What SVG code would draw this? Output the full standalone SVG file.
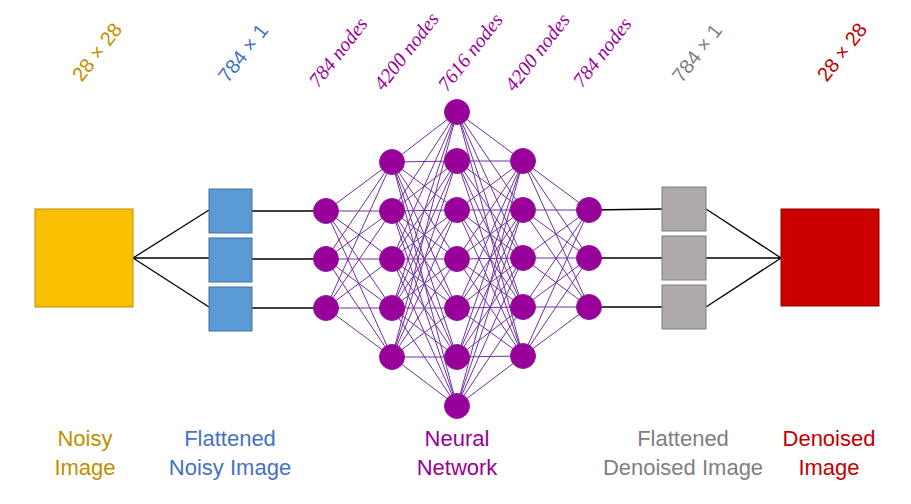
<svg xmlns="http://www.w3.org/2000/svg" width="911" height="504" viewBox="0 0 911 504">
<style>
.bk{stroke:#000;stroke-width:1.3;fill:none}
.nn{stroke:#7030A0;stroke-width:1;fill:none}
.node{fill:#990099;stroke:#8a1aa0;stroke-width:1}
.blue{fill:#5B9BD5;stroke:#41719C;stroke-width:1}
.gray{fill:#AEAAAA;stroke:#7F7F7F;stroke-width:1}
.lab{font-family:"Liberation Sans",Arial,sans-serif;font-size:22px;text-anchor:middle}
.top{font-family:"Liberation Sans",Arial,sans-serif;font-size:20px;text-anchor:middle;dominant-baseline:central}
.topi{font-family:"Liberation Serif","Times New Roman",serif;font-style:italic;font-size:20px;text-anchor:middle;dominant-baseline:central;fill:#990099}
</style>
<rect width="911" height="504" fill="#fff"/>
<g id="connectors">
<path class="bk" d="M133 258L209 210M133 258L209 258M133 258L209 307M252 211L326 211M252 259L326 259M252 308L326 308M589 210L662 209M589 258L662 258M589 307L662 307M706 209L781 258M706 258L781 258M706 307L781 258"/>
<path class="nn" d="M326 211L392 162M326 211L392 211M326 211L392 259M326 211L392 308M326 211L392 357M326 259L392 162M326 259L392 211M326 259L392 259M326 259L392 308M326 259L392 357M326 308L392 162M326 308L392 211M326 308L392 259M326 308L392 308M326 308L392 357"/>
<path class="nn" d="M392 162L457 112M392 162L457 161M392 162L457 210M392 162L457 259M392 162L457 308M392 162L457 357M392 162L457 406M392 211L457 112M392 211L457 161M392 211L457 210M392 211L457 259M392 211L457 308M392 211L457 357M392 211L457 406M392 259L457 112M392 259L457 161M392 259L457 210M392 259L457 259M392 259L457 308M392 259L457 357M392 259L457 406M392 308L457 112M392 308L457 161M392 308L457 210M392 308L457 259M392 308L457 308M392 308L457 357M392 308L457 406M392 357L457 112M392 357L457 161M392 357L457 210M392 357L457 259M392 357L457 308M392 357L457 357M392 357L457 406"/>
<path class="nn" d="M457 112L523 161M457 112L523 210M457 112L523 258M457 112L523 307M457 112L523 356M457 161L523 161M457 161L523 210M457 161L523 258M457 161L523 307M457 161L523 356M457 210L523 161M457 210L523 210M457 210L523 258M457 210L523 307M457 210L523 356M457 259L523 161M457 259L523 210M457 259L523 258M457 259L523 307M457 259L523 356M457 308L523 161M457 308L523 210M457 308L523 258M457 308L523 307M457 308L523 356M457 357L523 161M457 357L523 210M457 357L523 258M457 357L523 307M457 357L523 356M457 406L523 161M457 406L523 210M457 406L523 258M457 406L523 307M457 406L523 356"/>
<path class="nn" d="M523 161L589 210M523 161L589 258M523 161L589 307M523 210L589 210M523 210L589 258M523 210L589 307M523 258L589 210M523 258L589 258M523 258L589 307M523 307L589 210M523 307L589 258M523 307L589 307M523 356L589 210M523 356L589 258M523 356L589 307"/>
</g>
<g id="noisy-image"><rect x="35" y="209" width="98" height="98" fill="#F9BE00" stroke="#C09000" stroke-width="1"/></g>
<g id="flattened-noisy"><rect class="blue" x="209" y="189" width="43" height="44"/><rect class="blue" x="209" y="238" width="43" height="44"/><rect class="blue" x="209" y="287" width="43" height="44"/></g>
<g id="layer1"><circle class="node" cx="326" cy="211" r="12.5"/><circle class="node" cx="326" cy="259" r="12.5"/><circle class="node" cx="326" cy="308" r="12.5"/></g>
<g id="layer2"><circle class="node" cx="392" cy="162" r="12.5"/><circle class="node" cx="392" cy="211" r="12.5"/><circle class="node" cx="392" cy="259" r="12.5"/><circle class="node" cx="392" cy="308" r="12.5"/><circle class="node" cx="392" cy="357" r="12.5"/></g>
<g id="layer3"><circle class="node" cx="457" cy="112" r="12.5"/><circle class="node" cx="457" cy="161" r="12.5"/><circle class="node" cx="457" cy="210" r="12.5"/><circle class="node" cx="457" cy="259" r="12.5"/><circle class="node" cx="457" cy="308" r="12.5"/><circle class="node" cx="457" cy="357" r="12.5"/><circle class="node" cx="457" cy="406" r="12.5"/></g>
<g id="layer4"><circle class="node" cx="523" cy="161" r="12.5"/><circle class="node" cx="523" cy="210" r="12.5"/><circle class="node" cx="523" cy="258" r="12.5"/><circle class="node" cx="523" cy="307" r="12.5"/><circle class="node" cx="523" cy="356" r="12.5"/></g>
<g id="layer5"><circle class="node" cx="589" cy="210" r="12.5"/><circle class="node" cx="589" cy="258" r="12.5"/><circle class="node" cx="589" cy="307" r="12.5"/></g>
<g id="flattened-denoised"><rect class="gray" x="662" y="187" width="44" height="44"/><rect class="gray" x="662" y="236" width="44" height="44"/><rect class="gray" x="662" y="285" width="44" height="44"/></g>
<g id="denoised-image"><rect x="781" y="209" width="98" height="97" fill="#CC0000" stroke="#8B0000" stroke-width="1"/></g>
<g id="top-labels">
<text class="top" fill="#BF9000" transform="rotate(-52 97 52)" x="97" y="52">28 × 28</text>
<text class="top" fill="#4472C4" transform="rotate(-52 243 53)" x="243" y="53">784 × 1</text>
<text class="topi" transform="rotate(-52 338 52)" x="338" y="52">784 nodes</text>
<text class="topi" transform="rotate(-52 406 51)" x="406" y="51">4200 nodes</text>
<text class="topi" transform="rotate(-52 470 52)" x="470" y="52">7616 nodes</text>
<text class="topi" transform="rotate(-52 537 52)" x="537" y="52">4200 nodes</text>
<text class="topi" transform="rotate(-52 602 52)" x="602" y="52">784 nodes</text>
<text class="top" fill="#7F7F7F" transform="rotate(-52 697 53)" x="697" y="53">784 × 1</text>
<text class="top" fill="#C00000" transform="rotate(-52 842 52)" x="842" y="52">28 × 28</text>
</g>
<g id="bottom-labels">
<text class="lab" fill="#BF9000" x="85" y="446">Noisy</text>
<text class="lab" fill="#BF9000" x="85" y="475">Image</text>
<text class="lab" fill="#4472C4" x="230" y="446">Flattened</text>
<text class="lab" fill="#4472C4" x="230" y="475">Noisy Image</text>
<text class="lab" fill="#990099" x="457" y="446">Neural</text>
<text class="lab" fill="#990099" x="457" y="475">Network</text>
<text class="lab" fill="#7F7F7F" x="683" y="446">Flattened</text>
<text class="lab" fill="#7F7F7F" x="683" y="475">Denoised Image</text>
<text class="lab" fill="#C00000" x="829" y="446">Denoised</text>
<text class="lab" fill="#C00000" x="829" y="475">Image</text>
</g>
</svg>
